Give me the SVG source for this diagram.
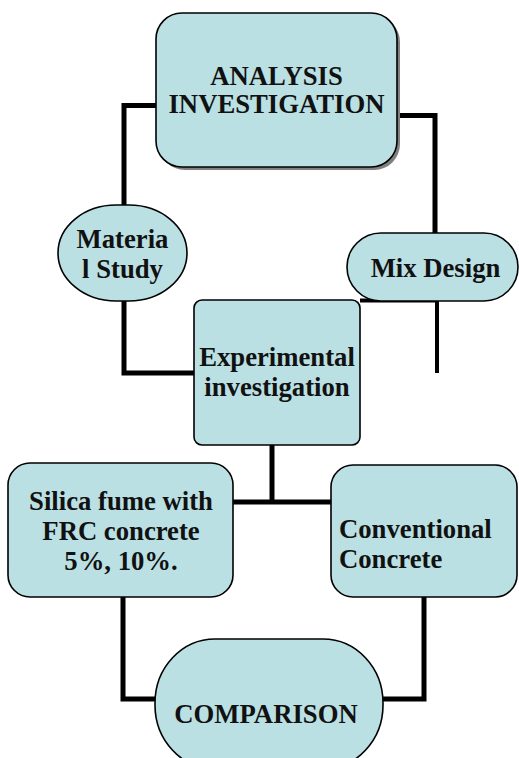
<svg xmlns="http://www.w3.org/2000/svg" width="519" height="758" viewBox="0 0 519 758">
<style>
.n{fill:#bae0e4;stroke:#000;stroke-width:1.6}
.sh{fill:#808080}
.t{font-family:"Liberation Serif","Times New Roman",serif;font-weight:bold;font-size:26.7px;fill:#111}
.c{text-anchor:middle}
.w{fill:none;stroke:#000;stroke-width:5;stroke-linejoin:miter}
.w4{fill:none;stroke:#000;stroke-width:4}
</style>
<rect width="519" height="758" fill="#fff"/>
<g id="connectors">
<polyline class="w" points="156,105.5 124,105.5 124,205"/>
<polyline class="w" points="124,301 124,373 194,373"/>
<polyline class="w" points="397,115.5 435,115.5 435,233"/>
<polyline class="w4" points="360,300.5 437,300.5 437,373"/>
<polyline class="w" points="272,445 272,502"/>
<polyline class="w" points="233,502 331,502"/>
<polyline class="w" points="123,597 123,699 156,699"/>
<polyline class="w" points="424,597 424,699 382,699"/>
</g>
<g id="analysis">
<rect class="sh" x="159" y="16" width="241" height="154" rx="26"/>
<rect class="n" x="156" y="13" width="241" height="154" rx="26"/>
<text class="t c" x="276.5" y="85">ANALYSIS</text>
<text class="t c" x="276.5" y="113">INVESTIGATION</text>
</g>
<g id="material">
<rect class="n" x="58" y="205" width="129" height="96" rx="58" ry="48"/>
<text class="t c" x="122.5" y="248">Materia</text>
<text class="t c" x="122.5" y="278">l Study</text>
</g>
<g id="mix">
<rect class="n" x="347" y="233" width="171" height="68" rx="34"/>
<text class="t c" x="435.5" y="277">Mix Design</text>
</g>
<g id="experimental">
<rect class="n" x="194" y="300" width="166" height="145" rx="8"/>
<text class="t c" x="277" y="366">Experimental</text>
<text class="t c" x="277" y="396">investigation</text>
</g>
<g id="silica">
<rect class="n" x="8" y="463" width="225" height="134" rx="22"/>
<text class="t c" x="121" y="510">Silica fume with</text>
<text class="t c" x="121" y="540">FRC concrete</text>
<text class="t c" x="121" y="570">5%, 10%.</text>
</g>
<g id="conventional">
<rect class="n" x="331" y="465" width="186" height="132" rx="22"/>
<text class="t" x="339" y="538">Conventional</text>
<text class="t" x="339" y="568">Concrete</text>
</g>
<g id="comparison">
<rect class="n" x="155" y="639" width="228" height="130" rx="60" ry="64"/>
<text class="t c" x="266" y="723">COMPARISON</text>
</g>
</svg>
